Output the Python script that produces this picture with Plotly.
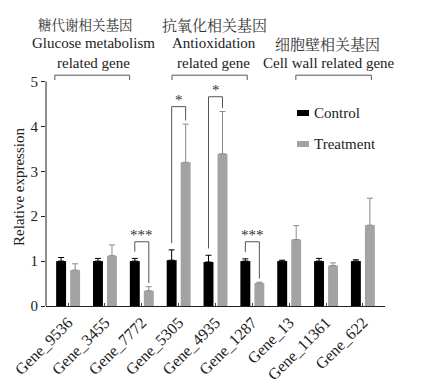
import plotly.graph_objects as go

genes = ["Gene_9536", "Gene_3455", "Gene_7772", "Gene_5305", "Gene_4935",
         "Gene_1287", "Gene_13", "Gene_11361", "Gene_622"]
control = [1.00, 1.00, 1.00, 1.02, 0.98, 1.00, 1.00, 1.00, 1.00]
control_err = [0.08, 0.06, 0.06, 0.23, 0.15, 0.05, 0.02, 0.06, 0.03]
treatment = [0.80, 1.12, 0.34, 3.20, 3.39, 0.51, 1.48, 0.90, 1.80]
treatment_err = [0.14, 0.24, 0.09, 0.85, 0.94, 0.02, 0.31, 0.06, 0.60]

# significance: gene index, bracket height, label
sig_index = [2, 3, 4, 5]
sig_height = [1.43, 4.44, 4.66, 1.43]
sig_label = ["***", "*", "*", "***"]

group_cn = ["糖代谢相关基因", "抗氧化相关基因", "细胞壁相关基因"]
group_en = [["Glucose metabolism", "related gene"],
            ["Antioxidation", "related gene"],
            ["Cell wall related gene"]]

SERIF = "Liberation Serif, Times New Roman, serif"
CJK = "Noto Serif CJK SC, Noto Sans CJK SC"
GRAY = "#a3a3a3"

fig = go.Figure()
fig.add_trace(go.Bar(
    x=genes, y=control, name="Control", marker_color="#000000",
    marker_line_width=0,
    error_y=dict(type="data", symmetric=False, array=control_err,
                 arrayminus=[0] * len(control), color="#000000",
                 thickness=1, width=3)))
fig.add_trace(go.Bar(
    x=genes, y=treatment, name="Treatment", marker_color=GRAY,
    marker_line_width=0,
    error_y=dict(type="data", symmetric=False, array=treatment_err,
                 arrayminus=[0] * len(treatment), color="#8a8a8a",
                 thickness=1, width=3)))

shapes = []
annotations = []
off = 0.19

# significance brackets
for i, h, lab in zip(sig_index, sig_height, sig_label):
    lb = control[i] + control_err[i] + 0.15
    rb = treatment[i] + treatment_err[i] + 0.08
    shapes.append(dict(type="path", xref="x", yref="y",
                       path=f"M {i-off},{lb} L {i-off},{h} L {i+off},{h} L {i+off},{rb}",
                       line=dict(color="#555555", width=1)))
    annotations.append(dict(x=i, y=h, xref="x", yref="y", text=lab,
                            showarrow=False, yanchor="bottom", yshift=-3,
                            font=dict(family=SERIF, size=15, color="#333")))

# group brackets at the top
spans = [(-0.36, 1.67), (2.82, 4.86), (6.18, 8.23)]
for (a, b) in spans:
    shapes.append(dict(type="path", xref="x", yref="y",
                       path=f"M {a},5.03 L {a},5.14 L {b},5.14 L {b},5.03",
                       line=dict(color="#555555", width=1)))

# group titles
cn_pos = [(0.48, 1.184, 13.5), (3.97, 1.184, 15), (7.05, 1.105, 15)]
for txt, (x, y, s) in zip(group_cn, cn_pos):
    annotations.append(dict(x=x, y=y, xref="x", yref="paper", text=txt,
                            showarrow=False, yanchor="middle",
                            font=dict(family=CJK, size=s, color="#333")))
en_pos = [[(0.69, 1.105), (0.70, 1.021)],
          [(3.96, 1.105), (3.94, 1.021)],
          [(7.08, 1.021)]]
for lines, poss in zip(group_en, en_pos):
    for txt, (x, y) in zip(lines, poss):
        annotations.append(dict(x=x, y=y, xref="x", yref="paper", text=txt,
                                showarrow=False, yanchor="middle",
                                font=dict(family=SERIF, size=15, color="#222")))

# y axis line (only up to 5)
shapes.append(dict(type="line", xref="paper", yref="y", x0=0, x1=0, y0=0, y1=5,
                   line=dict(color="#222", width=1)))

# custom legend
pw, ph = 339.0, 238.0
def px2paper(px, py):
    return (px - 46) / pw, (306 - py) / ph
for name, col, py in [("Control", "#000000", 113), ("Treatment", GRAY, 144)]:
    x0, y0 = px2paper(297, py - 3)
    x1, y1 = px2paper(309, py + 3)
    shapes.append(dict(type="rect", xref="paper", yref="paper",
                       x0=x0, x1=x1, y0=y1, y1=y0, fillcolor=col, line_width=0))
    tx, ty = px2paper(312, py)
    annotations.append(dict(x=tx, y=ty, xref="paper", yref="paper", text=name,
                            showarrow=False, xanchor="left", yanchor="middle",
                            font=dict(family=SERIF, size=15, color="#222")))

# page body has an 8px margin, so the figure is drawn 8px in from the corner
fig.update_layout(
    width=428, height=376,
    margin=dict(l=38, r=51, t=60, b=78, autoexpand=False),
    paper_bgcolor="white", plot_bgcolor="white",
    barmode="group", bargap=0.24, bargroupgap=0.29,
    showlegend=False,
    font=dict(family=SERIF, size=15, color="#222"),
    shapes=shapes, annotations=annotations,
)
fig.update_xaxes(
    type="category", range=[-0.6, 8.6], showline=True, linecolor="#222",
    linewidth=1, ticks="inside", ticklen=3, tickcolor="#444", tickangle=-45,
    tickfont=dict(family=SERIF, size=16, color="#222"), showgrid=False,
    zeroline=False, automargin=False)
fig.update_yaxes(
    range=[0, 5.3], tickvals=[0, 1, 2, 3, 4, 5], showline=False,
    ticks="outside", ticklen=4, tickcolor="#222", showgrid=False,
    zeroline=False, automargin=False,
    tickfont=dict(family=SERIF, size=15, color="#222"),
    title=dict(text="Relative expression", standoff=2,
               font=dict(family=SERIF, size=15, color="#222")))

fig.write_html("out.html")
